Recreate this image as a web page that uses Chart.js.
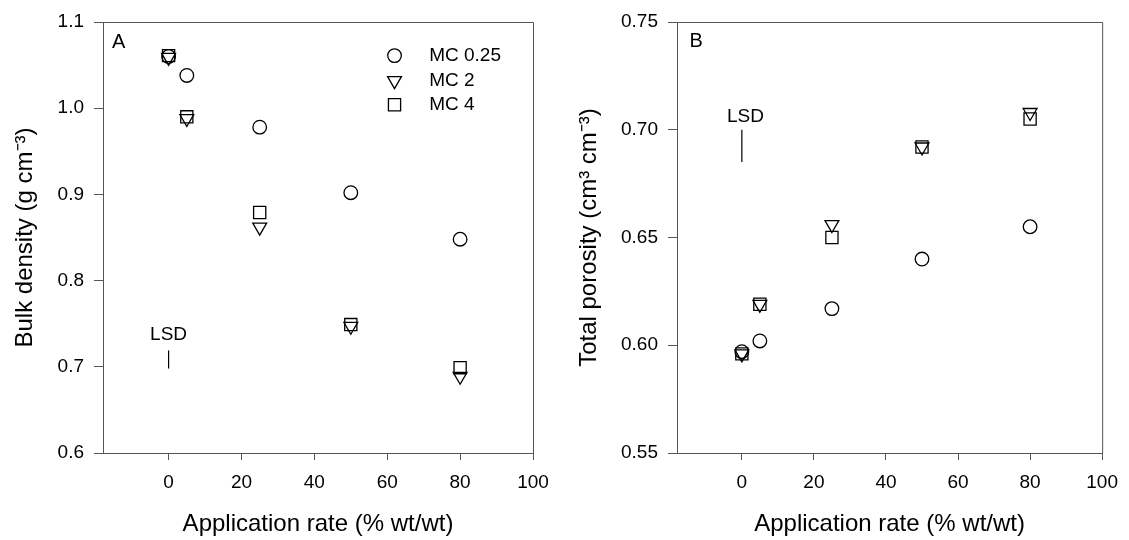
<!DOCTYPE html>
<html>
<head>
<meta charset="utf-8">
<script src="https://cdn.jsdelivr.net/npm/chart.js@4.4.1/dist/chart.umd.min.js"></script>
<style>
  html, body { margin: 0; padding: 0; background: #fff; }
  .panel { position: absolute; top: 0; height: 540px; }
  #panelA { left: 0; width: 564px; }
  #panelB { left: 564px; width: 565px; }
</style>
</head>
<body>
<div class="panel" id="panelA"><canvas id="chartA"></canvas></div>
<div class="panel" id="panelB"><canvas id="chartB"></canvas></div>
<script>
// Data
const rates = [0, 5, 25, 50, 80];
const seriesNames = ['MC 0.25', 'MC 2', 'MC 4'];

const bulkMC025 = [1.060, 1.038, 0.978, 0.902, 0.848];
const bulkMC2 = [1.059, 0.988, 0.862, 0.747, 0.689];
const bulkMC4 = [1.061, 0.990, 0.879, 0.749, 0.699];

const poroMC025 = [0.597, 0.602, 0.617, 0.640, 0.655];
const poroMC2 = [0.596, 0.619, 0.656, 0.692, 0.708];
const poroMC4 = [0.596, 0.619, 0.650, 0.692, 0.705];

// LSD bars (x, y bottom, y top)
const lsdBulk = [0, 0.698, 0.719];
const lsdPoro = [0, 0.685, 0.700];

const xTicks = [0, 20, 40, 60, 80, 100];
const yTicksBulk = [0.6, 0.7, 0.8, 0.9, 1.0, 1.1];
const yTicksPoro = [0.55, 0.60, 0.65, 0.70, 0.75];

const FONT = "'Liberation Sans', Arial, sans-serif";
const AXIS = '#555';

Chart.defaults.font.family = FONT;
Chart.defaults.color = '#000';

function pts(values) {
  return values.map((v, i) => ({x: rates[i], y: v}));
}

// frame, panel letter, LSD text and legend
const decorPlugin = {
  id: 'decor',
  afterDraw(chart, args, opts) {
    const {ctx, chartArea: a, scales} = chart;
    ctx.save();
    ctx.strokeStyle = AXIS;
    ctx.lineWidth = 1;
    ctx.beginPath();
    ctx.moveTo(a.left, a.top + 0.5);
    ctx.lineTo(a.right + 0.5, a.top + 0.5);
    ctx.lineTo(a.right + 0.5, a.bottom);
    ctx.stroke();

    ctx.fillStyle = '#000';
    ctx.textBaseline = 'middle';
    ctx.font = '20px ' + FONT;
    ctx.textAlign = 'left';
    ctx.fillText(opts.letter, scales.x.getPixelForValue(opts.letterAt[0]), scales.y.getPixelForValue(opts.letterAt[1]));

    ctx.font = '19px ' + FONT;
    ctx.textAlign = 'center';
    ctx.fillText('LSD', scales.x.getPixelForValue(opts.lsdAt[0]), scales.y.getPixelForValue(opts.lsdAt[1]));

    if (opts.legend) {
      const lg = opts.legend;
      chart.data.datasets.forEach((ds, i) => {
        if (!ds.inLegend) return;
        const y = scales.y.getPixelForValue(lg.rows[i]);
        const sx = scales.x.getPixelForValue(lg.symbolX);
        ctx.strokeStyle = '#000';
        ctx.fillStyle = 'rgba(0,0,0,0)';
        ctx.lineWidth = ds.borderWidth;
        Chart.helpers.drawPoint(ctx, {pointStyle: ds.pointStyle, rotation: ds.rotation || 0, radius: ds.pointRadius, borderWidth: ds.borderWidth}, sx, y);
        ctx.fillStyle = '#000';
        ctx.textAlign = 'left';
        ctx.fillText(ds.label, scales.x.getPixelForValue(lg.textX), y);
      });
    }
    ctx.restore();
  }
};

function markerSet(label, values, style) {
  const base = {
    label: label,
    data: pts(values),
    borderColor: '#000',
    backgroundColor: 'transparent',
    borderWidth: 1.3,
    inLegend: true
  };
  if (style === 'circle') return Object.assign(base, {pointStyle: 'circle', pointRadius: 6.8});
  if (style === 'tri') return Object.assign(base, {pointStyle: 'triangle', rotation: 180, pointRadius: 8});
  return Object.assign(base, {pointStyle: 'rect', pointRadius: 8.6});
}

function makeChart(id, cfg) {
  return new Chart(document.getElementById(id), {
    type: 'scatter',
    data: {
      datasets: [
        markerSet(seriesNames[0], cfg.s1, 'circle'),
        markerSet(seriesNames[1], cfg.s2, 'tri'),
        markerSet(seriesNames[2], cfg.s3, 'rect'),
        {
          label: 'LSD',
          data: [{x: cfg.lsd[0], y: cfg.lsd[1]}, {x: cfg.lsd[0], y: cfg.lsd[2]}],
          showLine: true,
          borderColor: '#000',
          borderWidth: 1.2,
          pointRadius: 0
        }
      ]
    },
    options: {
      responsive: true,
      maintainAspectRatio: false,
      animation: false,
      layout: {padding: {left: 0, right: cfg.padRight, top: 22, bottom: 0}},
      plugins: {
        legend: {display: false},
        tooltip: {enabled: false},
        decor: cfg.decor
      },
      scales: {
        x: {
          type: 'linear',
          min: -18,
          max: 100,
          afterBuildTicks: s => { s.ticks = xTicks.map(v => ({value: v})); },
          afterFit: s => { s.height = 87; },
          grid: {drawOnChartArea: false, drawTicks: true, tickLength: 7, color: AXIS},
          border: {color: AXIS, width: 1},
          ticks: {font: {size: 19}, padding: 11, color: '#000'},
          title: {display: true, text: 'Application rate (% wt/wt)', font: {size: 24}, padding: {top: 0, bottom: 1}, color: '#000'}
        },
        y: {
          min: cfg.yMin,
          max: cfg.yMax,
          afterBuildTicks: s => { s.ticks = cfg.yTicks.map(v => ({value: v})); },
          afterFit: s => { s.width = cfg.yWidth; },
          grid: {drawOnChartArea: false, drawTicks: true, tickLength: 9, color: AXIS},
          border: {color: AXIS, width: 1},
          ticks: {font: {size: 19}, padding: 10, color: '#000', callback: v => v.toFixed(cfg.decimals)},
          title: {display: true, text: cfg.yTitle, font: {size: 24}, padding: {top: 11, bottom: 0}, color: '#000'}
        }
      }
    },
    plugins: [decorPlugin]
  });
}

makeChart('chartA', {
  s1: bulkMC025, s2: bulkMC2, s3: bulkMC4, lsd: lsdBulk,
  yMin: 0.6, yMax: 1.1, yTicks: yTicksBulk, decimals: 1,
  yWidth: 103, padRight: 31,
  yTitle: 'Bulk density (g cm⁻³)',
  decor: {
    letter: 'A', letterAt: [-15.5, 1.076], lsdAt: [0, 0.737],
    legend: {symbolX: 62, textX: 71.5, rows: [1.061, 1.032, 1.004]}
  }
});

makeChart('chartB', {
  s1: poroMC025, s2: poroMC2, s3: poroMC4, lsd: lsdPoro,
  yMin: 0.55, yMax: 0.75, yTicks: yTicksPoro, decimals: 2,
  yWidth: 113, padRight: 23,
  yTitle: 'Total porosity (cm³ cm⁻³)',
  decor: {letter: 'B', letterAt: [-14.5, 0.741], lsdAt: [1, 0.706], legend: null}
});
</script>
</body>
</html>
